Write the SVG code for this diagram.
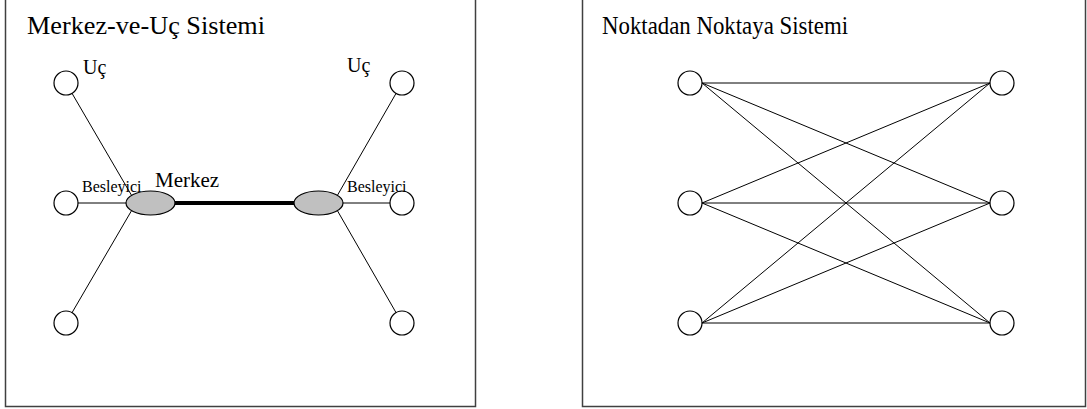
<svg xmlns="http://www.w3.org/2000/svg" width="1087" height="409" viewBox="0 0 1087 409">
<style>
.frame{fill:#fff;stroke:#404040;stroke-width:1.5}
.node{fill:#fff;stroke:#000;stroke-width:1.2}
.hub{fill:#c0c0c0;stroke:#000;stroke-width:1.2}
.ln{stroke:#000;stroke-width:1;fill:none}
.thick{stroke:#000;stroke-width:4;fill:none}
text{font-family:"Liberation Serif","Times New Roman",serif;fill:#000}
.title{font-size:25px}
.lbl{font-size:20px}
.mid{font-size:21px}
.sm{font-size:16px}
</style>
<rect class="frame" x="5.5" y="-5" width="470" height="411.5"/>
<rect class="frame" x="582.5" y="-5" width="503" height="411.5"/>
<text class="title" x="27" y="34" textLength="238" lengthAdjust="spacingAndGlyphs">Merkez-ve-Uç Sistemi</text>
<text class="title" x="602" y="34" textLength="246" lengthAdjust="spacingAndGlyphs">Noktadan Noktaya Sistemi</text>
<g id="connectors">
<line class="ln" x1="66" y1="83" x2="136" y2="203"/>
<line class="ln" x1="66" y1="323" x2="136" y2="203"/>
<line class="ln" x1="66" y1="203" x2="150" y2="203"/>
<line class="ln" x1="402" y1="83" x2="333" y2="203"/>
<line class="ln" x1="402" y1="323" x2="333" y2="203"/>
<line class="ln" x1="318" y1="203" x2="402" y2="203"/>
<line class="thick" x1="170" y1="203" x2="300" y2="203"/>
<line class="ln" x1="702" y1="83" x2="990" y2="83"/>
<line class="ln" x1="702" y1="83" x2="990" y2="203"/>
<line class="ln" x1="702" y1="83" x2="990" y2="323"/>
<line class="ln" x1="702" y1="203" x2="990" y2="83"/>
<line class="ln" x1="702" y1="203" x2="990" y2="203"/>
<line class="ln" x1="702" y1="203" x2="990" y2="323"/>
<line class="ln" x1="702" y1="323" x2="990" y2="83"/>
<line class="ln" x1="702" y1="323" x2="990" y2="203"/>
<line class="ln" x1="702" y1="323" x2="990" y2="323"/>
</g>
<g id="hs-uc-tl"><circle class="node" cx="66" cy="83" r="12"/></g>
<g id="hs-uc-ml"><circle class="node" cx="66" cy="203" r="12"/></g>
<g id="hs-uc-bl"><circle class="node" cx="66" cy="323" r="12"/></g>
<g id="hs-uc-tr"><circle class="node" cx="402" cy="83" r="12"/></g>
<g id="hs-uc-mr"><circle class="node" cx="402" cy="203" r="12"/></g>
<g id="hs-uc-br"><circle class="node" cx="402" cy="323" r="12"/></g>
<g id="hs-merkez-l"><ellipse class="hub" cx="150.5" cy="203" rx="24.5" ry="12"/></g>
<g id="hs-merkez-r"><ellipse class="hub" cx="318.5" cy="203" rx="24.5" ry="12"/></g>
<g id="p2p-l1"><circle class="node" cx="690" cy="83" r="12"/></g>
<g id="p2p-l2"><circle class="node" cx="690" cy="203" r="12"/></g>
<g id="p2p-l3"><circle class="node" cx="690" cy="323" r="12"/></g>
<g id="p2p-r1"><circle class="node" cx="1002" cy="83" r="12"/></g>
<g id="p2p-r2"><circle class="node" cx="1002" cy="203" r="12"/></g>
<g id="p2p-r3"><circle class="node" cx="1002" cy="323" r="12"/></g>
<text class="lbl" x="83" y="74">Uç</text>
<text class="lbl" x="347" y="72">Uç</text>
<text class="mid" x="155" y="187">Merkez</text>
<text class="sm" x="82" y="192">Besleyici</text>
<text class="sm" x="347" y="192">Besleyici</text>
</svg>
